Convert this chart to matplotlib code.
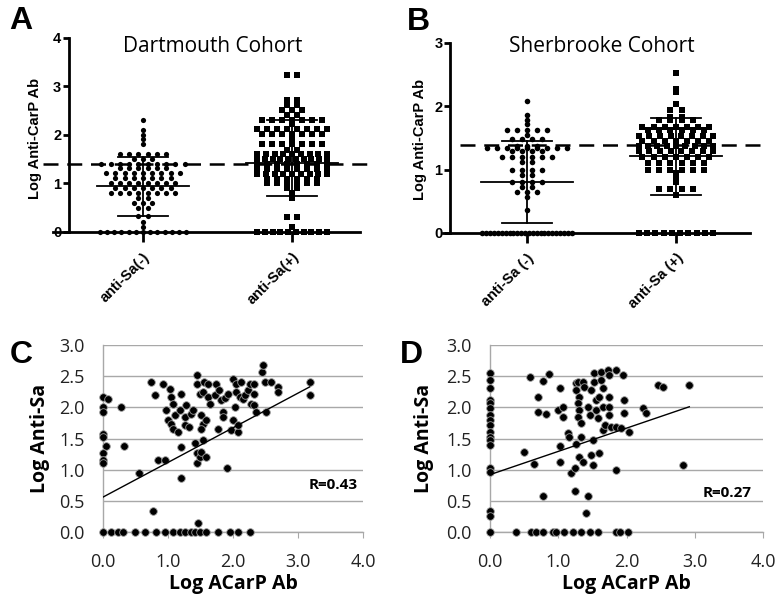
import numpy as np
import matplotlib
matplotlib.use("Agg")
import matplotlib.pyplot as plt
from matplotlib.ticker import FormatStrFormatter

# ---------------- data ----------------
groups_A = ["anti-Sa(-)", "anti-Sa(+)"]
groups_B = ["anti-Sa (-)", "anti-Sa (+)"]

A_neg = [2.31, 2.10, 2.01, 1.91, 1.81,
         1.60, 1.60, 1.60, 1.60, 1.60, 1.60,
         1.50, 1.50, 1.50,
         1.40, 1.40, 1.40, 1.40, 1.40, 1.40, 1.40, 1.40, 1.40, 1.40,
         1.31, 1.31, 1.31, 1.31, 1.31, 1.31,
         1.21, 1.21, 1.21, 1.21, 1.21, 1.21, 1.21, 1.21, 1.21,
         1.12, 1.12, 1.12, 1.12, 1.12, 1.12, 1.12,
         1.00, 1.00, 1.00, 1.00, 1.00, 1.00, 1.00, 1.00,
         0.90, 0.90, 0.90, 0.90, 0.90, 0.90, 0.90,
         0.80, 0.80, 0.80, 0.80, 0.80, 0.80, 0.80, 0.80,
         0.71, 0.71, 0.60, 0.60, 0.60, 0.50, 0.50, 0.33, 0.33, 0.20, 0.11,
         0, 0, 0, 0, 0, 0, 0, 0, 0, 0, 0, 0, 0]
A_pos = [3.24, 3.24, 2.72, 2.72, 2.62, 2.62, 2.52, 2.52, 2.52, 2.42, 2.42,
         2.30, 2.30, 2.30, 2.30, 2.30, 2.30, 2.30, 2.22,
         2.12, 2.12, 2.12, 2.12, 2.12, 2.12, 2.12, 2.12,
         2.03, 2.03, 2.03, 2.03, 2.03, 2.03, 2.03, 1.90,
         1.81, 1.81, 1.81, 1.81, 1.81, 1.81, 1.81, 1.70, 1.70,
         1.60, 1.60, 1.60, 1.60, 1.60, 1.60, 1.60, 1.60, 1.60,
         1.50, 1.50, 1.50, 1.50, 1.50, 1.50, 1.50, 1.50, 1.50, 1.50,
         1.40, 1.40, 1.40, 1.40, 1.40, 1.40, 1.40, 1.40,
         1.30, 1.30, 1.30, 1.30, 1.30, 1.30, 1.30, 1.30,
         1.20, 1.20, 1.20, 1.20, 1.20, 1.20, 1.20, 1.20, 1.20,
         1.10, 1.10, 1.10, 1.10, 1.10, 1.10,
         1.00, 1.00, 1.00, 1.00, 1.00, 1.00,
         0.90, 0.90, 0.80, 0.70, 0.30, 0.30, 0.10,
         0, 0, 0, 0, 0, 0, 0, 0, 0, 0]
B_neg = [2.09, 1.86, 1.78, 1.72,
         1.63, 1.63, 1.63, 1.63, 1.63, 1.55,
         1.48, 1.48, 1.48, 1.48, 1.38, 1.38, 1.38,
         1.34, 1.34, 1.34, 1.34, 1.34, 1.34, 1.34, 1.34, 1.34,
         1.29, 1.29, 1.29, 1.29,
         1.20, 1.20, 1.20, 1.20, 1.20, 1.20, 1.12, 1.12,
         1.00, 1.00, 1.00, 1.00, 0.92, 0.92,
         0.80, 0.80, 0.80, 0.80, 0.72, 0.72, 0.65, 0.65, 0.65, 0.57, 0.37,
         0, 0, 0, 0, 0, 0, 0, 0, 0, 0, 0, 0,
         0, 0, 0, 0, 0, 0, 0, 0, 0, 0, 0, 0]
B_pos = [2.53, 2.28, 2.22, 2.04, 1.95, 1.95, 1.83, 1.83,
         1.78, 1.78, 1.78, 1.78,
         1.68, 1.68, 1.68, 1.68, 1.68, 1.68, 1.68,
         1.62, 1.62, 1.62, 1.62, 1.62, 1.62,
         1.53, 1.53, 1.53, 1.53, 1.53, 1.53, 1.53, 1.53,
         1.45, 1.45, 1.45, 1.45, 1.45, 1.45, 1.45,
         1.38, 1.38, 1.38, 1.38, 1.38, 1.38, 1.38, 1.38, 1.38,
         1.30, 1.30, 1.30, 1.30, 1.30, 1.30, 1.30, 1.30,
         1.20, 1.20, 1.20, 1.20, 1.20, 1.20, 1.20,
         1.10, 1.10, 1.10, 1.10, 1.10, 1.10,
         1.00, 1.00, 1.00, 1.00, 1.00, 1.00,
         0.95, 0.87, 0.80, 0.70, 0.70, 0.70, 0.70, 0.60,
         0, 0, 0, 0, 0, 0, 0, 0, 0, 0]

# mean / SD bars: (center, low, high)
A_stats = [(0.94, 0.33, 1.54), (1.43, 0.74, 2.31)]
B_stats = [(0.81, 0.16, 1.46), (1.21, 0.60, 1.82)]
A_cutoff = 1.40
B_cutoff = 1.39

# Panel C scatter (Dartmouth)
C_x = [0.00, 0.08, 0.00, 0.00, 0.28, 0.00, 0.00, 0.05, 0.32, 0.00, 0.00, 0.00, 0.56,
       0.74, 0.80, 0.92, 0.85, 0.95, 0.77,
       1.03, 1.05, 0.97, 1.08, 1.00, 1.05, 1.10, 1.08, 1.15, 1.20, 1.18, 1.20, 1.20,
       1.28, 1.26, 1.26, 1.33, 1.36, 1.38, 1.44, 1.44, 1.49, 1.41, 1.44, 1.44, 1.49,
       1.51, 1.51, 1.54, 1.51, 1.54, 1.56, 1.54, 1.59, 1.59, 1.62, 1.62, 1.64, 1.77,
       1.74, 1.72, 1.79, 1.82, 1.85, 1.85, 1.87, 1.90, 1.92, 1.97, 2.00, 2.03, 2.00,
       2.05, 2.05, 2.08, 2.08, 2.10, 2.13, 2.15, 2.18, 2.23, 2.26, 2.28, 2.33, 2.33,
       2.33, 2.36, 2.44, 2.46, 2.49, 2.51, 2.59, 2.69, 2.69, 3.18, 3.18, 1.46,
       0.00, 0.13, 0.23, 0.31, 0.49, 0.64, 0.82, 0.95, 1.08, 1.18, 1.26, 1.36, 1.41,
       1.49, 1.59, 1.77, 1.95, 2.08, 2.26]
C_y = [2.17, 2.13, 2.00, 1.93, 2.00, 1.58, 1.52, 1.38, 1.38, 1.26, 1.16, 1.10, 0.95,
       2.41, 2.20, 2.38, 1.16, 1.16, 0.33,
       2.30, 2.17, 1.96, 2.06, 1.80, 1.74, 1.87, 1.66, 1.60, 2.22, 1.96, 1.37, 0.86,
       2.03, 1.85, 1.71, 1.69, 1.90, 1.96, 2.38, 2.52, 2.22, 1.42, 1.26, 1.10, 1.20,
       1.29, 1.87, 1.74, 1.66, 1.47, 2.41, 2.25, 1.79, 1.20, 2.38, 2.17, 2.06, 1.66,
       2.38, 2.20, 2.28, 2.12, 1.93, 1.85, 2.15, 1.02, 2.22, 1.63, 1.79, 2.00, 2.46,
       2.25, 2.38, 1.60, 1.71, 2.17, 2.41, 2.14, 2.20, 2.28, 2.38, 2.06, 2.03, 2.22,
       2.38, 1.93, 2.57, 2.68, 2.41, 1.93, 2.41, 2.33, 2.25, 2.41, 2.20, 0.15,
       0, 0, 0, 0, 0, 0, 0, 0, 0, 0, 0, 0, 0,
       0, 0, 0, 0, 0, 0]
C_fit = (0.56, 0.556)   # intercept, slope
C_R = "R=0.43"

# Panel D scatter (Sherbrooke)
D_x = [0, 0, 0, 0, 0, 0, 0, 0, 0, 0, 0, 0, 0, 0, 0, 0, 0,
       0.50, 0.65, 0.58, 0.70, 0.70, 0.82, 0.77, 0.87, 0.77, 1.02, 0.99, 1.07, 1.07,
       1.02, 1.02, 1.14, 1.16, 1.19, 1.24, 1.24, 1.26, 1.26, 1.29, 1.31, 1.29, 1.31,
       1.29, 1.34, 1.26, 1.34, 1.31, 1.36, 1.41, 1.43, 1.36, 1.38, 1.43, 1.46, 1.48,
       1.48, 1.51, 1.51, 1.53, 1.53, 1.55, 1.55, 1.58, 1.60, 1.60, 1.63, 1.63, 1.65,
       1.65, 1.65, 1.68, 1.73, 1.75, 1.75, 1.75, 1.75, 1.78, 1.85, 1.85, 1.85, 1.95,
       1.97, 1.97, 1.92, 2.04, 2.24, 2.29, 2.46, 2.53, 2.83, 2.92,
       0.00, 0.38, 0.60, 0.67, 0.77, 0.92, 0.97, 1.09, 1.21, 1.34, 1.46, 1.58, 1.85,
       1.90, 2.02]
D_y = [2.55, 2.44, 2.31, 2.12, 2.07, 1.99, 1.88, 1.80, 1.72, 1.61, 1.53, 1.48, 1.40,
       1.03, 0.97, 0.33, 0.25,
       1.28, 1.09, 2.48, 2.17, 1.92, 1.90, 2.43, 2.54, 0.57, 2.31, 1.96, 2.00, 1.84,
       1.38, 1.13, 1.59, 1.53, 0.95, 1.03, 0.65, 2.39, 2.28, 2.41, 2.17, 2.07, 1.96,
       1.84, 1.75, 1.41, 1.53, 1.21, 1.13, 0.30, 0.57, 2.41, 2.33, 2.01, 1.88, 2.28,
       1.24, 1.48, 1.08, 2.41, 2.55, 2.12, 1.96, 1.83, 2.17, 1.27, 2.57, 2.44, 2.31,
       2.01, 1.64, 1.72, 2.60, 2.52, 2.17, 2.01, 1.88, 1.69, 2.60, 1.69, 1.00, 2.52,
       2.12, 1.91, 1.67, 1.61, 1.99, 1.91, 2.36, 2.33, 1.08, 2.36,
       0, 0, 0, 0, 0, 0, 0, 0, 0, 0, 0, 0, 0,
       0, 0]
D_fit = (0.92, 0.373)
D_R = "R=0.27"

# ---------------- helpers ----------------
ARIAL = ["Liberation Sans", "DejaVu Sans"]
OPEN = ["Open Sans", "DejaVu Sans"]


def swarm_x(values, center, step, maxhalf):
    vals = np.asarray(values, dtype=float)
    xs = np.empty(len(vals))
    for v in np.unique(vals):
        idx = np.where(vals == v)[0]
        n = len(idx)
        s = step if n <= 1 else min(step, 2 * maxhalf / (n - 1))
        xs[idx] = center + (np.arange(n) - (n - 1) / 2) * s
    return xs


def dot_panel(ax, neg, pos, stats, cutoff, labels, ymax, xlim, spine_x,
              dash_x, ylabel, step_c, step_s, ms_c, ms_s, zhalf_n, zhalf_p):
    ax.set_xlim(*xlim)
    ax.set_ylim(0, ymax)
    for s in ["top", "right"]:
        ax.spines[s].set_visible(False)
    ax.spines["left"].set_position(("data", spine_x))
    ax.spines["left"].set_linewidth(2.0)
    ax.spines["bottom"].set_linewidth(2.0)
    ax.set_yticks(range(0, ymax + 1))
    ax.set_xticks([0, 1])
    ax.set_xticklabels(labels, rotation=45, ha="right", va="top",
                       rotation_mode="anchor", fontweight="bold",
                       family=ARIAL, fontsize=10.5)
    ax.tick_params(axis="x", length=7, width=2.0, pad=6)
    ax.tick_params(axis="y", length=4, width=2.0, pad=1.5)
    for t in ax.get_yticklabels():
        t.set_fontweight("bold")
        t.set_family(ARIAL)
        t.set_fontsize(10.5)
    ax.set_ylabel(ylabel, fontweight="bold", family=ARIAL, fontsize=10.5)

    xn = swarm_x(neg, 0, step_c, zhalf_n)
    xp = swarm_x(pos, 1, step_s, zhalf_p)
    ax.scatter(xn, neg, s=ms_c, marker="o", color="black", lw=0,
               clip_on=False, zorder=4)
    ax.scatter(xp, pos, s=ms_s, marker="s", color="black", lw=0,
               clip_on=False, zorder=4)
    for i, (m, lo, hi) in enumerate(stats):
        ax.plot([i - 0.31, i + 0.31], [m, m], color="black", lw=1.3, zorder=5)
        ax.plot([i - 0.17, i + 0.17], [lo, lo], color="black", lw=1.3, zorder=5)
        ax.plot([i - 0.17, i + 0.17], [hi, hi], color="black", lw=1.3, zorder=5)
        ax.plot([i, i], [lo, hi], color="black", lw=1.3, zorder=5)
    ax.plot(dash_x, [cutoff, cutoff], color="black", lw=1.8,
            dashes=(6, 3.5), clip_on=False, zorder=3)


def scatter_panel(ax, x, y, fit, rtext, rpos):
    ax.set_xlim(0, 4)
    ax.set_ylim(0, 3)
    for s in ["top", "right"]:
        ax.spines[s].set_visible(False)
    gray = "#a8a8a8"
    ax.spines["left"].set_color(gray)
    ax.spines["bottom"].set_color(gray)
    ax.spines["left"].set_linewidth(1.0)
    ax.spines["bottom"].set_linewidth(1.0)
    ax.set_yticks(np.arange(0, 3.01, 0.5))
    ax.set_xticks(np.arange(0, 4.01, 1.0))
    ax.yaxis.set_major_formatter(FormatStrFormatter("%.1f"))
    ax.xaxis.set_major_formatter(FormatStrFormatter("%.1f"))
    ax.yaxis.grid(True, color=gray, lw=1.0)
    ax.set_axisbelow(True)
    ax.tick_params(axis="y", length=0, pad=13, labelsize=13)
    ax.tick_params(axis="x", length=4, color=gray, pad=11, labelsize=13)
    for t in ax.get_xticklabels() + ax.get_yticklabels():
        t.set_family(OPEN)
        t.set_color("#222222")
    ax.scatter(x, y, s=30, color="black", edgecolors="#9a9a9a", linewidths=0.6,
               clip_on=False, zorder=4)
    x0, x1 = 0.0, max(x)
    b, m = fit
    ax.plot([x0, x1], [b + m * x0, b + m * x1], color="black", lw=1.0, zorder=5)
    ax.text(rpos[0], rpos[1], rtext, ha="right", va="center",
            fontweight="bold", family=OPEN, fontsize=11)
    ax.set_xlabel("Log ACarP Ab", fontweight="bold", family=OPEN, fontsize=14)
    ax.set_ylabel("Log Anti-Sa", fontweight="bold", family=OPEN, fontsize=14)
    ax.xaxis.set_label_coords(0.5, -0.225)
    ax.yaxis.set_label_coords(-0.205, 0.5)


# ---------------- figure ----------------
W, H = 778, 610
fig = plt.figure(figsize=(W / 100, H / 100), dpi=100)


def rect(l, r, b, t):
    return [l / W, 1 - b / H, (r - l) / W, (b - t) / H]


axA = fig.add_axes(rect(53, 360, 232, 38))
dot_panel(axA, A_neg, A_pos, A_stats, A_cutoff, groups_A, 4,
          (-0.604, 1.456), -0.497, [-0.671, 1.503], "Log Anti-CarP Ab",
          0.062, 0.067, 14, 23, 0.29, 0.235)
axA.yaxis.set_label_coords(-0.036, 0.48)

axB = fig.add_axes(rect(443, 750, 233, 43))
dot_panel(axB, B_neg, B_pos, B_stats, B_cutoff, groups_B, 3,
          (-0.564, 1.497), -0.517, [-0.45, 1.577], "Log Anti-CarP Ab",
          0.067, 0.075, 16, 18, 0.30, 0.25)
axB.yaxis.set_label_coords(-0.052, 0.49)

axC = fig.add_axes(rect(103, 363, 532, 345))
scatter_panel(axC, C_x, C_y, C_fit, C_R, (3.92, 0.75))

axD = fig.add_axes(rect(490, 763, 532, 345))
scatter_panel(axD, D_x, D_y, D_fit, D_R, (3.84, 0.63))

fig.text(213 / W, 1 - 47 / H, "Dartmouth Cohort", ha="center", va="center",
         family=OPEN, fontsize=15)
fig.text(602 / W, 1 - 47 / H, "Sherbrooke Cohort", ha="center", va="center",
         family=OPEN, fontsize=15)

for lab, x, y in [("A", 21, 21), ("B", 418, 22), ("C", 21, 355), ("D", 411, 355)]:
    fig.text(x / W, 1 - y / H, lab, ha="center", va="center",
             fontweight="bold", family=ARIAL, fontsize=23)

fig.savefig("out.png", dpi=100)
